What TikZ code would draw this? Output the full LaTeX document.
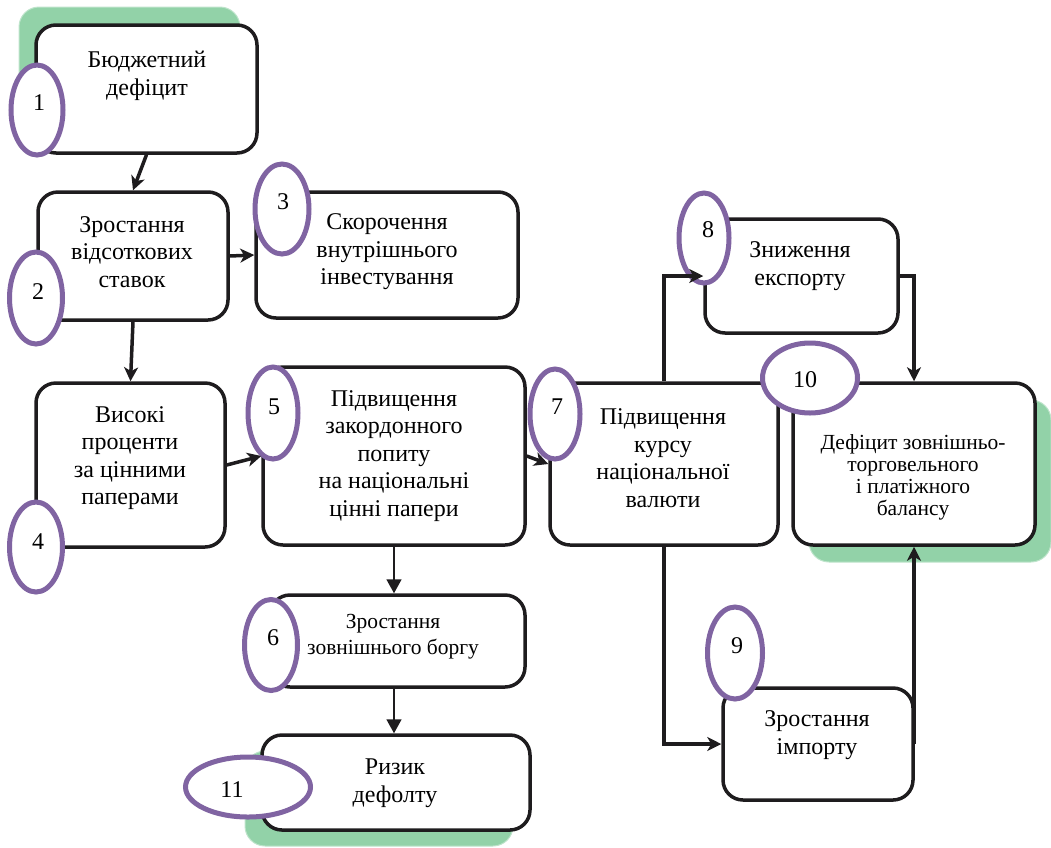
\documentclass[tikz,border=0pt]{standalone}
\usepackage{fontspec}
\setmainfont{Liberation Serif}
\usetikzlibrary{arrows.meta,shapes.geometric,calc}
\definecolor{shgreen}{RGB}{146,210,168}
\definecolor{ovpurple}{RGB}{128,100,162}
\definecolor{bline}{RGB}{30,28,30}
\tikzset{
  box/.style={draw=bline,line width=3.5pt,rounded corners=20pt,fill=white,inner sep=0pt},
  shad/.style={fill=shgreen,draw=shgreen!60!white,line width=1pt,rounded corners=20pt,inner sep=0pt},
  oval/.style={ellipse,draw=ovpurple,line width=5pt,fill=white,inner sep=0pt},
  num/.style={inner sep=0pt,font=\fontsize{24}{26}\selectfont},
  txt/.style={inner sep=0pt,align=center,font=\fontsize{24}{27.5}\selectfont},
  stxt/.style={inner sep=0pt,align=center,font=\fontsize{21.5}{22}\selectfont},
  arr/.style={draw=bline,line width=3.5pt,-{Stealth[length=14pt,width=14pt,inset=4pt]}},
  tarr/.style={draw=bline,line width=1.6pt,-{Triangle[length=14pt,width=15pt]}}
}
\begin{document}
\begin{tikzpicture}[x=1pt,y=-1pt]
\useasboundingbox (0,0) rectangle (1051,847);
% shadows
\node[shad,minimum width=221pt,minimum height=128pt] (s1) at (129.5,71) {};
\node[shad,minimum width=242pt,minimum height=162pt] (s10) at (930,481) {};
\node[shad,minimum width=268pt,minimum height=95pt] (s11) at (379,798.5) {};
% boxes
\node[box,minimum width=221pt,minimum height=128pt] (b1) at (146.5,89) {};
\node[box,minimum width=190pt,minimum height=128pt] (b2) at (133,256) {};
\node[box,minimum width=262pt,minimum height=126pt] (b3) at (387,255) {};
\node[box,minimum width=189pt,minimum height=164pt] (b4) at (130.5,465) {};
\node[box,minimum width=262pt,minimum height=178pt] (b5) at (394,456) {};
\node[box,minimum width=255pt,minimum height=92pt] (b6) at (397.5,641) {};
\node[box,minimum width=228pt,minimum height=162pt] (b7) at (664,464) {};
\node[box,minimum width=193pt,minimum height=114pt] (b8) at (801.5,276) {};
\node[box,minimum width=190pt,minimum height=112pt] (b9) at (818,744) {};
\node[box,minimum width=242pt,minimum height=162pt] (b10) at (914,464) {};
\node[box,minimum width=268pt,minimum height=95pt] (b11) at (396,782.5) {};
% ovals
\node[oval,minimum width=52pt,minimum height=90pt] (e1) at (37,110) {};
\node[oval,minimum width=53pt,minimum height=92pt] (e2) at (36,298) {};
\node[oval,minimum width=54pt,minimum height=90pt] (e3) at (282,209) {};
\node[oval,minimum width=53pt,minimum height=90pt] (e4) at (36,547) {};
\node[oval,minimum width=50pt,minimum height=92pt] (e5) at (273,413) {};
\node[oval,minimum width=53pt,minimum height=91pt] (e6) at (271,645) {};
\node[oval,minimum width=50pt,minimum height=90pt] (e7) at (555,414) {};
\node[oval,minimum width=50pt,minimum height=90pt] (e8) at (704,238) {};
\node[oval,minimum width=55pt,minimum height=92pt] (e9) at (735,653) {};
\node[oval,minimum width=95pt,minimum height=70pt] (e10) at (810,378) {};
\node[oval,minimum width=125pt,minimum height=60pt] (e11) at (248,787) {};
% arrows
\draw[arr] (b1.south) -- (b2.north);
\draw[arr] (b2.east) -- (b3.west);
\draw[arr] (b2.south) -- (b4.north);
\draw[arr] (b4.east) -- (b5.west);
\draw[arr] (b5.east) -- (b7.west);
\draw[tarr] (b5.south) -- (b5.south |- b6.north);
\draw[tarr] (b5.south |- b6.south) -- (b5.south |- b11.north);
\draw[arr] (b7.north) |- (b8.west);
\draw[arr] (b7.south) |- (b9.west);
\draw[arr] (b8.east) -| (b10.north);
\draw[arr] (b9.east -| b10.south) -- (b10.south);
% numbers
\node[num] (n1) at (39,103) {1};
\node[num] (n2) at (38,292) {2};
\node[num] (n3) at (283,202) {3};
\node[num] (n4) at (38,542) {4};
\node[num] (n5) at (274,407) {5};
\node[num] (n6) at (273,638) {6};
\node[num] (n7) at (557,407) {7};
\node[num] (n8) at (708,230) {8};
\node[num] (n9) at (737,646) {9};
\node[num] (n10) at (805,380) {10};
\node[num] (n11) at (232,790) {11};
% texts
\node[txt] (t1) at (147,76) {Бюджетний\\дефіцит};
\node[txt] (t2) at (132,252) {Зростання\\відсоткових\\ставок};
\node[txt] (t3) at (387,252) {Скорочення\\внутрішнього\\інвестування};
\node[txt] (t4) at (130,458) {Високі\\проценти\\за цінними\\паперами};
\node[txt] (t5) at (394,456) {Підвищення\\закордонного\\попиту\\на національні\\цінні папери};
\node[stxt,font=\fontsize{21.5}{26}\selectfont] (t6) at (393,637) {Зростання\\зовнішнього боргу};
\node[txt] (t7) at (663,458) {Підвищення\\курсу\\національної\\валюти};
\node[txt] (t8) at (800,266) {Зниження\\експорту};
\node[txt] (t9) at (817,735) {Зростання\\імпорту};
\node[stxt] (t10) at (913,477) {Дефіцит зовнішньо-\\торговельного\\і платіжного\\балансу};
\node[txt] (t11) at (395,783) {Ризик\\дефолту};
\end{tikzpicture}
\end{document}
